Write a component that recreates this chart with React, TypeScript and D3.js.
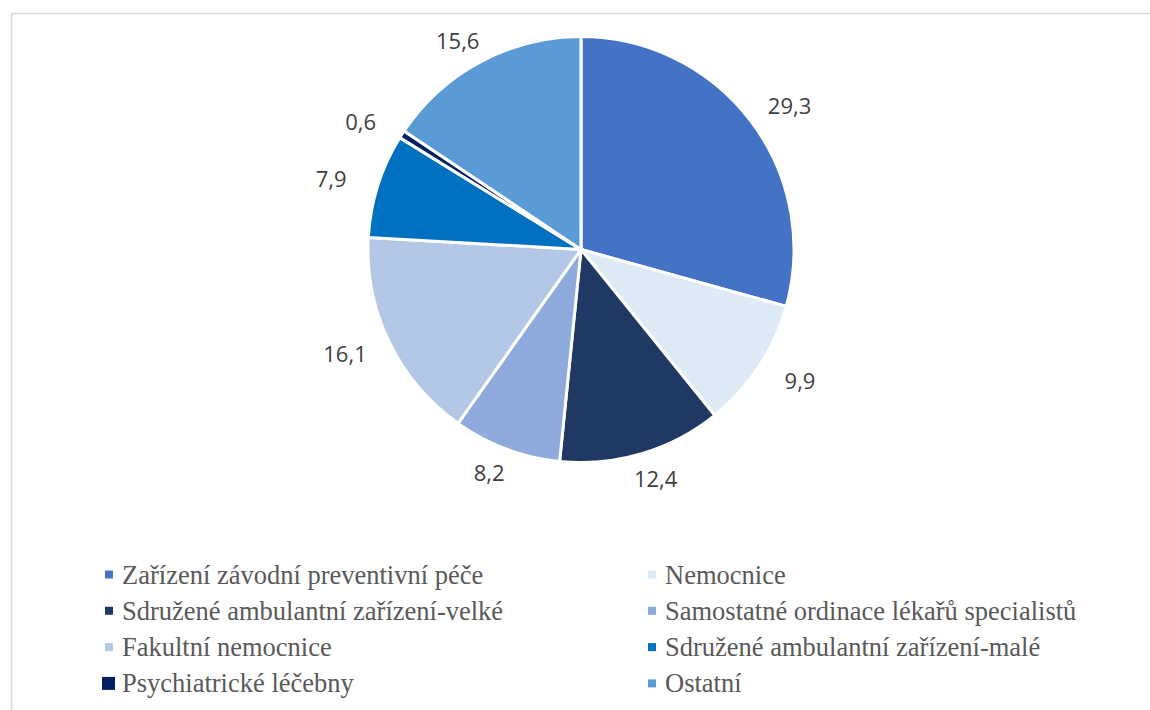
import React from 'react';
import * as d3 from 'd3';

const categories = [
  'Zařízení závodní preventivní péče',
  'Nemocnice',
  'Sdružené ambulantní zařízení-velké',
  'Samostatné ordinace lékařů specialistů',
  'Fakultní nemocnice',
  'Sdružené ambulantní zařízení-malé',
  'Psychiatrické léčebny',
  'Ostatní',
];

const values = [29.3, 9.9, 12.4, 8.2, 16.1, 7.9, 0.6, 15.6];

const colors = [
  '#4472C4',
  '#DEEBF7',
  '#203864',
  '#8FAADC',
  '#B4C7E7',
  '#0070C0',
  '#002060',
  '#5B9BD5',
];

const W = 1150;
const H = 710;

const App: React.FC = () => {
  const svgRef = React.useRef<SVGSVGElement>(null);

  React.useEffect(() => {
    if (!svgRef.current) return;
    const svg = d3.select(svgRef.current);
    svg.selectAll('*').remove();

    // chart border (runs off the right / bottom edge)
    svg.append('rect')
      .attr('x', 11.5)
      .attr('y', 13.5)
      .attr('width', W + 20)
      .attr('height', H + 20)
      .attr('fill', '#fff')
      .attr('stroke', '#d9d9d9')
      .attr('stroke-width', 1.5);

    const cx = 581;
    const cy = 249.5;
    const R = 213;

    const pie = d3.pie<number>().sort(null).value(d => d);
    const arcs = pie(values);
    const arc = d3.arc<d3.PieArcDatum<number>>().innerRadius(0).outerRadius(R);

    const g = svg.append('g').attr('transform', `translate(${cx},${cy})`);

    g.selectAll('path.slice')
      .data(arcs)
      .enter()
      .append('path')
      .attr('class', 'slice')
      .attr('d', arc)
      .attr('fill', (_, i) => colors[i])
      .attr('stroke', '#fff')
      .attr('stroke-width', 3)
      .attr('stroke-linejoin', 'round');

    // outside-end data labels, laid on an ellipse a bit wider than the pie
    const rx = R + 49;
    const ry = R + 25;
    arcs.forEach(a => {
      const mid = (a.startAngle + a.endAngle) / 2;
      const label = d3.format('.1f')(a.data).replace('.', ',');
      g.append('text')
        .attr('x', rx * Math.sin(mid))
        .attr('y', -ry * Math.cos(mid))
        .attr('text-anchor', 'middle')
        .attr('dominant-baseline', 'central')
        .style('font-family', '"Open Sans", "Liberation Sans", sans-serif')
        .style('font-size', '22px')
        .style('fill', '#404040')
        .text(label);
    });

    // legend
    const colX = [105, 648];
    const rowY = d3.range(4).map(i => 574.5 + i * 36.3);
    categories.forEach((c, i) => {
      const col = i % 2;
      const row = Math.floor(i / 2);
      const size = i === 6 ? 13 : 8;
      const lx = colX[col];
      const ly = rowY[row];
      svg.append('rect')
        .attr('x', i === 6 ? lx - 3 : lx)
        .attr('y', ly - size / 2)
        .attr('width', size)
        .attr('height', size)
        .attr('fill', colors[i]);
      svg.append('text')
        .attr('x', lx + 17)
        .attr('y', ly)
        .attr('dominant-baseline', 'central')
        .style('font-family', '"Liberation Serif", "Times New Roman", serif')
        .style('font-size', '26.5px')
        .style('fill', '#595959')
        .text(c);
    });
  }, []);

  return (
    <svg
      ref={svgRef}
      width={W}
      height={H}
      viewBox={`0 0 ${W} ${H}`}
      style={{ position: 'absolute', left: 0, top: 0, background: '#fff' }}
    />
  );
};

export default App;
